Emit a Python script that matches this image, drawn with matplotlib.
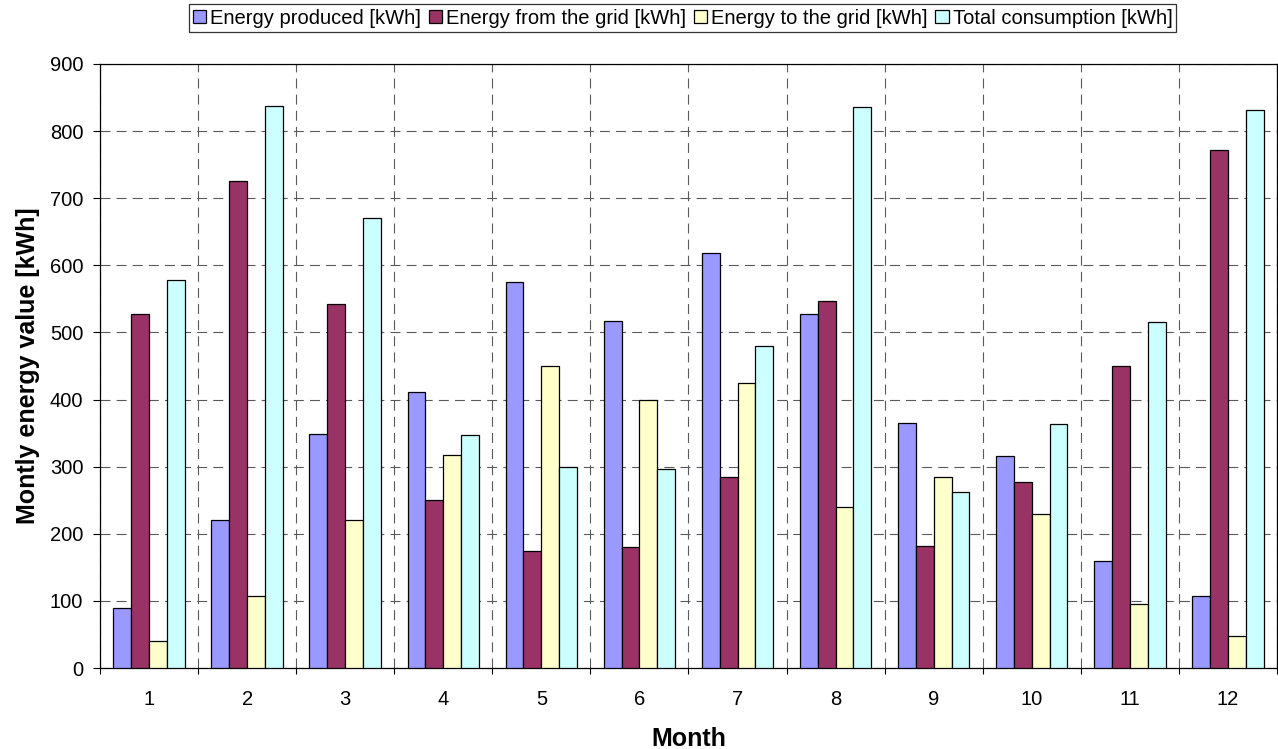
import matplotlib.pyplot as plt
import numpy as np
from matplotlib.ticker import MultipleLocator

plt.rcParams['font.family'] = ['Liberation Sans', 'DejaVu Sans']

months = list(range(1, 13))
produced = [90, 220, 349, 412, 575, 517, 618, 528, 365, 316, 160, 107]
from_grid = [528, 725, 543, 251, 174, 180, 285, 547, 182, 277, 450, 772]
to_grid = [40, 108, 220, 317, 450, 400, 424, 240, 284, 229, 96, 48]
consumption = [578, 837, 671, 347, 300, 297, 480, 836, 262, 364, 515, 832]

series = [
    (produced, 'Energy produced [kWh]', '#9999FF'),
    (from_grid, 'Energy from the grid [kWh]', '#993366'),
    (to_grid, 'Energy to the grid [kWh]', '#FFFFCC'),
    (consumption, 'Total consumption [kWh]', '#CCFFFF'),
]

fig = plt.figure(figsize=(12.78, 7.49), dpi=100)
ax = fig.add_axes([0.0782, 0.1081, 0.921, 0.8065])

# four bars per month, side by side
x = np.array(months)
w = 0.182
for i, (vals, label, color) in enumerate(series):
    ax.bar(x + (i - 1.5) * w, vals, width=w, color=color,
           edgecolor='black', linewidth=0.9, label=label, zorder=3)

ax.set_xlim(0.5, 12.5)
ax.set_ylim(0, 900)
ax.yaxis.set_major_locator(MultipleLocator(100))
ax.set_xticks(months)
ax.set_xticks(np.arange(0.5, 13, 1), minor=True)
ax.tick_params(axis='x', which='major', length=0, pad=15.5, labelsize=14.5)
ax.tick_params(axis='x', which='minor', length=4.5, direction='out', width=0.8)
ax.tick_params(axis='y', length=5, direction='out', width=0.8, labelsize=14.5, pad=7)

dash = (0, (9, 5.5))
ax.grid(True, axis='y', which='major', linestyle=dash, color='#5a5a5a', linewidth=0.8, zorder=0)
ax.grid(True, axis='x', which='minor', linestyle=dash, color='#5a5a5a', linewidth=0.8, zorder=0)

for s in ax.spines.values():
    s.set_color('black')
    s.set_linewidth(0.9)

ax.set_xlabel('Month', fontsize=18, fontweight='bold', labelpad=13)
ax.set_ylabel('Montly energy value [kWh]', fontsize=18, fontweight='bold', labelpad=7)

leg = fig.legend(loc='upper center', bbox_to_anchor=(0.534, 0.994), ncol=4,
                 fontsize=14.5, frameon=True, fancybox=False, handlelength=0.65,
                 handleheight=0.65, handletextpad=0.2, columnspacing=0.4,
                 borderpad=0.2, borderaxespad=0)
leg.get_frame().set_edgecolor('black')
leg.get_frame().set_linewidth(0.9)

fig.savefig('out.png', dpi=100)
